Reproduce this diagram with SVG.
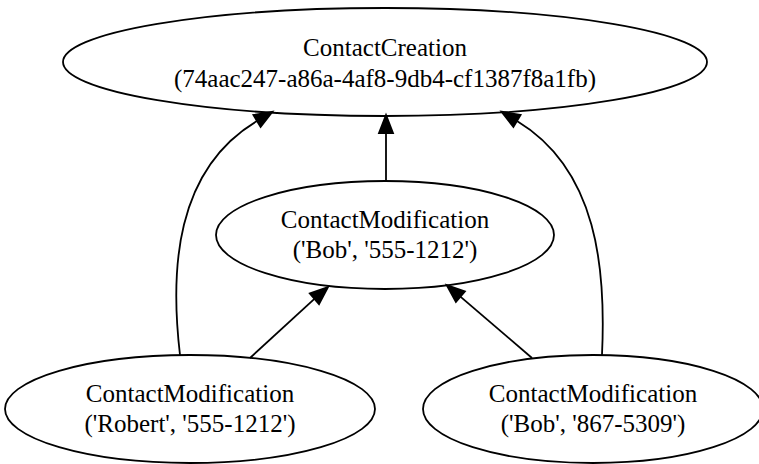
<svg xmlns="http://www.w3.org/2000/svg" width="759" height="464" viewBox="0 0 759 464">
  <style>
    .node ellipse { fill: #ffffff; stroke: #000000; stroke-width: 1.8; }
    .node text { font-family: "Liberation Serif", "Times New Roman", serif; font-size: 25px; fill: #000000; text-anchor: middle; }
    .edge { fill: none; stroke: #000000; stroke-width: 1.8; }
    .head { fill: #000000; stroke: #000000; stroke-width: 1.8; stroke-linejoin: miter; }
  </style>
  <rect width="759" height="464" fill="#ffffff"/>
  <g id="node-creation" class="node">
    <ellipse cx="385" cy="62" rx="322" ry="54"/>
    <text x="385" y="56">ContactCreation</text>
    <text x="385" y="87">(74aac247-a86a-4af8-9db4-cf1387f8a1fb)</text>
  </g>
  <g id="node-mod-bob-555" class="node">
    <ellipse cx="385" cy="235" rx="169" ry="54"/>
    <text x="385" y="228">ContactModification</text>
    <text x="385" y="258">('Bob', '555-1212')</text>
  </g>
  <g id="node-mod-robert" class="node">
    <ellipse cx="190" cy="409" rx="185" ry="54"/>
    <text x="190" y="402">ContactModification</text>
    <text x="190" y="432">('Robert', '555-1212')</text>
  </g>
  <g id="node-mod-bob-867" class="node">
    <ellipse cx="593" cy="409" rx="170" ry="54"/>
    <text x="593" y="402">ContactModification</text>
    <text x="593" y="432">('Bob', '867-5309')</text>
  </g>
  <g id="connectors">
    <path class="edge" d="M386,181 L386,133"/>
    <polygon class="head" points="386,115 379,133 393,133"/>
    <path class="edge" d="M180,355 C170,270 175,170 257,121"/>
    <polygon class="head" points="272.4,111.8 260.6,127 253.4,115"/>
    <path class="edge" d="M602,355 C606,270 598,170 517,121"/>
    <polygon class="head" points="501.6,111.7 520.6,115 513.4,127"/>
    <path class="edge" d="M250,358 L314.4,298.8"/>
    <polygon class="head" points="328,287 319,304.1 309.8,293.5"/>
    <path class="edge" d="M532,358 L460.4,296.6"/>
    <polygon class="head" points="446.7,285 464.9,291.3 455.9,301.9"/>
  </g>
</svg>
